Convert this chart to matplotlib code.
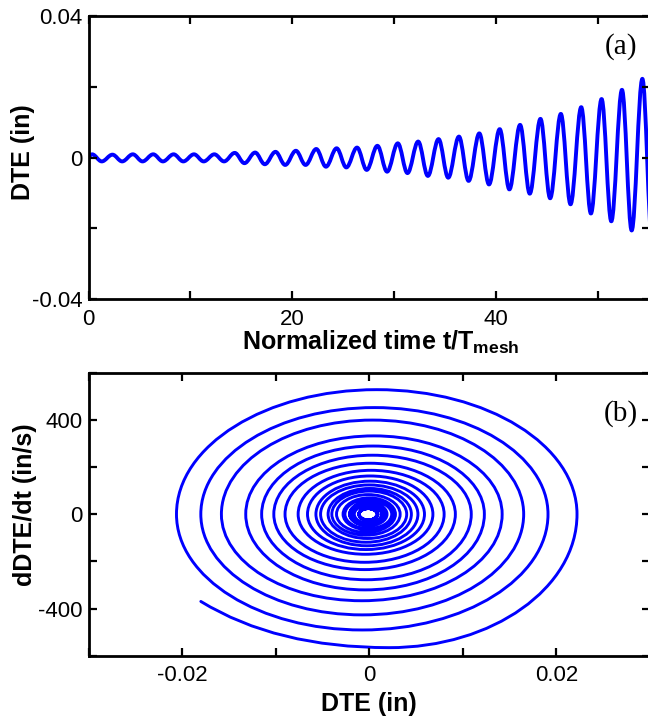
import matplotlib
matplotlib.use("Agg")
import matplotlib.pyplot as plt
from matplotlib.path import Path
from matplotlib.patches import PathPatch

plt.rcParams["font.family"] = ["Liberation Sans", "DejaVu Sans"]
plt.rcParams["mathtext.fontset"] = "custom"
plt.rcParams["mathtext.rm"] = "Liberation Sans"
plt.rcParams["mathtext.bf"] = "Liberation Sans:bold"

# (a) DTE history: start value, peaks and troughs
start_t, start_dte = 0.0, 0.0003
peak_t = [0.35, 2.35, 4.35, 6.35, 8.35, 10.35, 12.35, 14.35, 16.35, 18.35,
          20.35, 22.35, 24.35, 26.35, 28.35, 30.35, 32.35, 34.35, 36.35, 38.35,
          40.35, 42.35, 44.35, 46.35, 48.35, 50.35, 52.35, 54.35]
peak_dte = [0.0009, 0.0008, 0.0009, 0.0009, 0.0009, 0.0009, 0.0009, 0.0013, 0.0014, 0.0016,
            0.0019, 0.0024, 0.0026, 0.0028, 0.0033, 0.0040, 0.0045, 0.0052, 0.0059, 0.0068,
            0.0080, 0.0092, 0.0109, 0.0123, 0.0142, 0.0165, 0.0191, 0.0222]
trough_t = [1.3, 3.3, 5.3, 7.3, 9.3, 11.3, 13.3, 15.3, 17.3, 19.3,
            21.3, 23.3, 25.3, 27.3, 29.3, 31.3, 33.3, 35.3, 37.3, 39.3,
            41.3, 43.3, 45.3, 47.3, 49.3, 51.3, 53.3, 55.3]
trough_dte = [-0.0011, -0.0011, -0.0011, -0.0011, -0.0011, -0.0011, -0.0011, -0.0016, -0.0019, -0.0021,
              -0.0021, -0.0026, -0.0028, -0.0035, -0.0040, -0.0044, -0.0052, -0.0057, -0.0066, -0.0076,
              -0.0090, -0.0102, -0.0115, -0.0132, -0.0158, -0.0180, -0.0206, -0.0235]

# (b) phase portrait: velocity extremes of each half turn, and the last point
vel_min = [-25, -25, -25, -25, -25, -25, -25, -37, -40, -45,
           -49, -61, -66, -77, -89, -103, -119, -134, -150, -170,
           -204, -235, -278, -321, -367, -427, -491, -566]
vel_max = [24, 24, 24, 24, 24, 24, 31, 37, 43, 49,
           55, 64, 69, 83, 98, 109, 124, 140, 162, 186,
           216, 250, 289, 332, 399, 452, 528]
end_dte, end_vel = -0.018, -370

BLUE = "#0000ff"
C = 0.364   # bezier handle for a half cosine between extremes
K = 0.5523  # bezier handle for a quarter ellipse


def history_path():
    pts = [(start_t, start_dte)]
    for i in range(len(peak_t)):
        pts.append((peak_t[i], peak_dte[i]))
        pts.append((trough_t[i], trough_dte[i]))
    verts, codes = [pts[0]], [Path.MOVETO]
    for (t0, y0), (t1, y1) in zip(pts[:-1], pts[1:]):
        h = t1 - t0
        verts += [(t0 + C * h, y0), (t1 - C * h, y1), (t1, y1)]
        codes += [Path.CURVE4] * 3
    return Path(verts, codes)


def phase_path():
    n = len(peak_dte)
    verts, codes = [(peak_dte[0], 0.0)], [Path.MOVETO]

    def to_vaxis(a, m, b):
        verts.extend([(a, K * b), (m + K * (a - m), b), (m, b)])
        codes.extend([Path.CURVE4] * 3)

    def to_xaxis(m, b, c):
        verts.extend([(m + K * (c - m), b), (c, K * b), (c, 0.0)])
        codes.extend([Path.CURVE4] * 3)

    for k in range(n):
        a = peak_dte[k]
        if k < n - 1:
            c = trough_dte[k]
            m = 0.5 * (a + c)
            to_vaxis(a, m, vel_min[k])
            to_xaxis(m, vel_min[k], c)
            a2 = peak_dte[k + 1]
            m2 = 0.5 * (c + a2)
            to_vaxis(c, m2, vel_max[k])
            to_xaxis(m2, vel_max[k], a2)
        else:
            m = 0.5 * (a + end_dte)
            to_vaxis(a, m, vel_min[k])
            verts.extend([(m + 0.6 * (end_dte - m), vel_min[k]), (end_dte, end_vel)])
            codes.extend([Path.CURVE3] * 2)
    return Path(verts, codes)


def style_axes(ax):
    for s in ax.spines.values():
        s.set_linewidth(2.0)
    ax.tick_params(direction="in", top=True, right=True, length=5.5, width=1.6,
                   labelsize=16, pad=7)
    ax.tick_params(axis="y", pad=4.5)


fig = plt.figure(figsize=(6.48, 7.21), dpi=100)
ax1 = fig.add_axes([0.1366, 0.5849, 0.8665, 0.3933])
ax2 = fig.add_axes([0.1366, 0.0906, 0.8665, 0.3925])

# panel (a)
ax1.add_patch(PathPatch(history_path(), fill=False, edgecolor=BLUE, lw=2.8,
                        joinstyle="round", capstyle="round"))
ax1.set_xlim(0, 55.1)
ax1.set_ylim(-0.04, 0.04)
ax1.set_xticks([0, 10, 20, 30, 40, 50])
ax1.set_xticklabels(["0", "", "20", "", "40", ""])
ax1.set_yticks([-0.04, -0.02, 0, 0.02, 0.04])
ax1.set_yticklabels(["-0.04", "", "0", "", "0.04"])
style_axes(ax1)
ax1.set_xlabel(r"Normalized time t/T$_{\mathbf{mesh}}$", fontsize=18, fontweight="bold")
ax1.set_ylabel("DTE (in)", fontsize=18, fontweight="bold")
ax1.xaxis.set_label_coords(0.52, -0.105)
ax1.yaxis.set_label_coords(-0.095, 0.52)
ax1.text(0.948, 0.893, "(a)", transform=ax1.transAxes, ha="center", va="center",
         fontsize=21, family="Liberation Serif")

# panel (b)
ax2.add_patch(PathPatch(phase_path(), fill=False, edgecolor=BLUE, lw=2.1,
                        joinstyle="round", capstyle="round"))
ax2.set_xlim(-0.03, 0.03)
ax2.set_ylim(-600, 600)
ax2.set_xticks([-0.03, -0.02, -0.01, 0, 0.01, 0.02, 0.03])
ax2.set_xticklabels(["", "-0.02", "", "0", "", "0.02", ""])
ax2.set_yticks([-600, -400, -200, 0, 200, 400, 600])
ax2.set_yticklabels(["", "-400", "", "0", "", "400", ""])
style_axes(ax2)
ax2.set_xlabel("DTE (in)", fontsize=18, fontweight="bold")
ax2.set_ylabel("dDTE/dt (in/s)", fontsize=18, fontweight="bold")
ax2.xaxis.set_label_coords(0.5, -0.13)
ax2.yaxis.set_label_coords(-0.092, 0.535)
ax2.text(0.948, 0.854, "(b)", transform=ax2.transAxes, ha="center", va="center",
         fontsize=21, family="Liberation Serif")

fig.savefig("out.png", dpi=100)
